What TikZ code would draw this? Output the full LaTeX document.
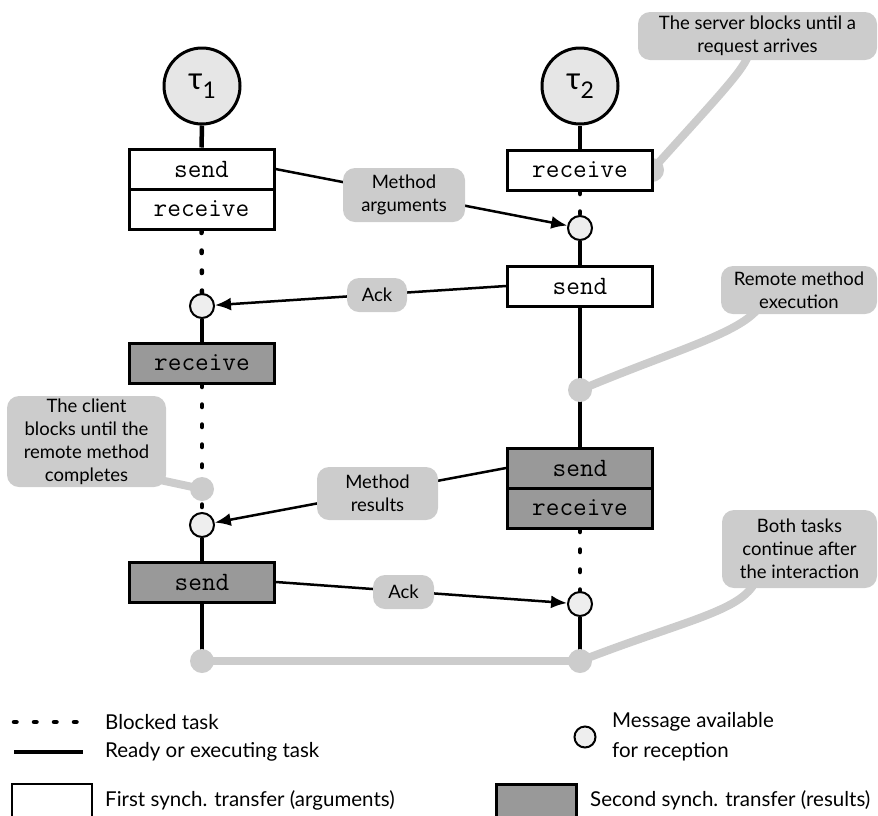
\documentclass[tikz,border=0pt]{standalone}
\usepackage{fontspec}
\setmainfont{Lato}
\usetikzlibrary{arrows.meta}
\definecolor{callgray}{HTML}{CCCCCC}
\definecolor{boxgray}{HTML}{999999}
\definecolor{msgfill}{HTML}{EEEEEE}
\definecolor{taufill}{HTML}{E6E6E6}

\tikzset{
  opbox/.style={draw, line width=3pt, fill=white, minimum width=145pt, minimum height=40pt,
    inner sep=0pt, font=\fontsize{26.5}{26.5}\selectfont\ttfamily},
  opboxdark/.style={opbox, fill=boxgray},
  task/.style={circle, draw, line width=3pt, fill=taufill, minimum size=76pt, inner sep=0pt,
    font=\fontsize{31}{31}\selectfont},
  msg/.style={circle, draw, line width=2pt, fill=msgfill, minimum size=24pt, inner sep=0pt},
  pindot/.style={circle, fill=callgray, minimum size=24pt, inner sep=0pt},
  callout/.style={fill=callgray, rounded corners=12pt, align=center, inner sep=0pt,
    font=\fontsize{18.5}{23}\selectfont},
  running/.style={line width=4.5pt},
  blocked/.style={line width=4.5pt, line cap=round, dash pattern=on 2.5pt off 17.5pt},
  lead/.style={line width=8pt, draw=callgray},
  msgarrow/.style={line width=2.5pt, -{Latex[length=16pt,width=13pt]}},
  legendtext/.style={anchor=west, align=left, inner sep=0pt, font=\fontsize{20.5}{30}\selectfont},
}

\begin{document}
\begin{tikzpicture}[x=1pt, y=-1pt]
\useasboundingbox (0,0) rectangle (878,815);

% ---- tasks ----
\node[task] (t1) at (202,86) {τ\raisebox{-9pt}{\fontsize{23}{23}\selectfont 1}};
\node[task] (t2) at (580,86) {τ\raisebox{-9pt}{\fontsize{23}{23}\selectfont 2}};

% ---- operation boxes ----
\node[opbox] (s1)  at (201.5,169) {send};
\node[opbox] (r1)  at (201.5,209) {receive};
\node[opbox] (r2)  at (580,170)   {receive};
\node[opbox] (s2)  at (580,286)   {send};
\node[opboxdark] (r1b) at (202,363) {receive};
\node[opboxdark] (s2b) at (580,468) {send};
\node[opboxdark] (r2b) at (580,508) {receive};
\node[opboxdark] (s1b) at (202,582) {send};

% ---- messages waiting for reception ----
\node[msg] (m1) at (580,228) {};
\node[msg] (m2) at (202,306) {};
\node[msg] (m3) at (202,525) {};
\node[msg] (m4) at (580,604) {};

% ---- annotation anchors ----
\coordinate (g1) at (652,170);
\coordinate (g2) at (580,390);
\coordinate (g3) at (202,489);
\coordinate (g4) at (202,661);
\coordinate (g5) at (580,661);
\coordinate (c1a) at (748,56);
\coordinate (c2a) at (757,310);
\coordinate (c3a) at (160,480);
\coordinate (c4a) at (754,584);

% ---- task time lines ----
\draw[running] (t1.south) -- (s1.north);
\draw[blocked] (r1.south) -- (m2.north);
\draw[running] (m2.south) -- (r1b.north);
\draw[blocked] (r1b.south) -- (m3.north);
\draw[running] (m3.south) -- (s1b.north);
\draw[running] (s1b.south) -- (g4);

\draw[running] (t2.south) -- (r2.north);
\draw[blocked] (r2.south) -- (m1.north);
\draw[running] (m1.south) -- (s2.north);
\draw[running] (s2.south) -- (s2b.north);
\draw[blocked] (r2b.south) -- (m4.north);
\draw[running] (m4.south) -- (g5);

% ---- annotation leads ----
\draw[lead] (g1) .. controls (715,100) and (742,72) .. (c1a);
\draw[lead] (g2) .. controls (670,352) and (735,335) .. (c2a);
\draw[lead] (g3) -- (c3a);
\draw[lead] (g4) -- (g5);
\draw[lead] (g5) .. controls (680,622) and (738,612) .. (c4a);
\foreach \p in {g1,g2,g3,g4,g5} \node[pindot] at (\p) {};

% the receive box sits above its lead dot
\node[opbox] at (r2) {receive};

% ---- messages ----
\draw[msgarrow] (s1.east) -- (m1);
\draw[msgarrow] (s2.west) -- (m2);
\draw[msgarrow] (s2b.west) -- (m3);
\draw[msgarrow] (s1b.east) -- (m4);

\node[callout, minimum width=122pt, minimum height=54pt] (l1) at (404,195) {Method\\arguments};
\node[callout, minimum width=60pt, minimum height=34pt] (l2) at (377,295) {Ack};
\node[callout, minimum width=121pt, minimum height=53pt] (l3) at (377.5,493.5) {Method\\results};
\node[callout, minimum width=61pt, minimum height=34pt] (l4) at (403.5,592) {Ack};

% ---- annotations ----
\node[callout, minimum width=239pt, minimum height=48pt] (c1) at (757.5,36) {The server blocks until a\\request arrives};
\node[callout, minimum width=156pt, minimum height=48pt] (c2) at (799,290) {Remote method\\execution};
\node[callout, minimum width=159pt, minimum height=91pt] (c3) at (86.5,441.5) {The client\\blocks until the\\remote method\\completes};
\node[callout, minimum width=155pt, minimum height=78pt] (c4) at (799.5,549) {Both tasks\\continue after\\the interaction};

% ---- legend ----
\coordinate (lb0) at (14,722); \coordinate (lb1) at (83,722);
\coordinate (lr0) at (14,752); \coordinate (lr1) at (83,752);
\draw[blocked] (lb0) -- (lb1);
\draw[running] (lr0) -- (lr1);
\node[legendtext] (tb) at (105,722) {Blocked task};
\node[legendtext] (tr) at (105,752) {Ready or executing task};
\node[msg, minimum size=21pt] (lm) at (585,737) {};
\node[legendtext] (tm) at (612,737) {Message available\\for reception};
\draw[line width=2.5pt, fill=white] (12,784) rectangle (92,830);
\draw[line width=3pt, fill=boxgray] (496,784) rectangle (576,830);
\node[legendtext] (tf) at (105,800) {First synch. transfer (arguments)};
\node[legendtext] (ts) at (590,800) {Second synch. transfer (results)};
\end{tikzpicture}
\end{document}
